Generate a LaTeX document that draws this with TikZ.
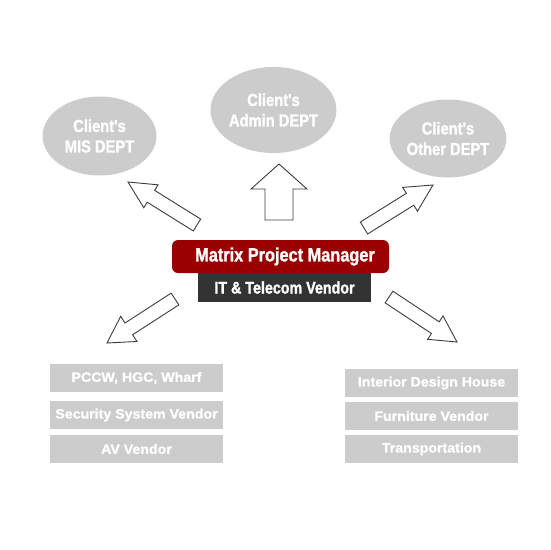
\documentclass[tikz,border=0pt]{standalone}
\usepackage{fontspec}
\usetikzlibrary{calc,shapes.geometric}
\newfontfamily\cfont[FakeStretch=0.85,FakeBold=1.3]{Liberation Sans Bold}
\newfontfamily\wfont[FakeStretch=1.05,FakeBold=1.1]{Liberation Sans Bold}
\definecolor{lgray}{RGB}{204,204,204}
\definecolor{mred}{RGB}{153,0,0}
\definecolor{dgray}{RGB}{51,51,51}
\definecolor{aline}{RGB}{60,60,60}
\tikzset{
  dept/.style={ellipse, fill=lgray, text=white, align=center, inner sep=0pt,
    font=\cfont\fontsize{17.3}{20.5}\selectfont},
  vendor/.style={rectangle, fill=lgray, text=white, minimum width=173pt, minimum height=28pt, inner sep=0pt,
    font=\wfont\fontsize{13.5}{16}\selectfont},
  blockarr/.style={draw=aline, line width=0.9pt, fill=white, line join=miter},
}
\newcommand\blockarrow[5]{%
  \coordinate (hb) at ($(#2)!#5!(#1)$);
  \draw[blockarr] ($(#1)!#3!90:(#2)$) -- ($(hb)!#3!90:(#2)$) -- ($(hb)!#4!90:(#2)$) -- (#2)
    -- ($(hb)!#4!-90:(#2)$) -- ($(hb)!#3!-90:(#2)$) -- ($(#1)!#3!-90:(#2)$) -- cycle;}
\begin{document}
\begin{tikzpicture}[x=1pt,y=-1pt]
\useasboundingbox[fill=white] (0,0) rectangle (550,550);
% departments
\node[dept, minimum width=114pt, minimum height=79pt] (mis) at (99.5,136) {Client's\\MIS DEPT};
\node[dept, minimum width=113pt, minimum height=86pt] (adm) at (273.5,110) {Client's\\Admin DEPT};
\node[dept, minimum width=113pt, minimum height=78pt] (oth) at (448,138.5) {Client's\\Other DEPT};
% centre
\node[rectangle, rounded corners=6pt, fill=mred, text=white, minimum width=217pt, minimum height=33pt, inner sep=0pt,
  font=\cfont\fontsize{19.2}{22}\selectfont] (pm) at (280.5,256.5) {\hspace*{9pt}Matrix Project Manager};
\node[rectangle, fill=dgray, text=white, minimum width=173pt, minimum height=29pt, inner sep=0pt,
  font=\cfont\fontsize{16.8}{20}\selectfont] (it) at (284.5,287.5) {IT \& Telecom Vendor};
% vendors
\node[vendor] (v1) at (136.5,378) {PCCW, HGC, Wharf};
\node[vendor] (v2) at (136.5,415) {Security System Vendor};
\node[vendor] (v3) at (136.5,449) {AV Vendor};
\node[vendor] (w1) at (431.5,383) {Interior Design House};
\node[vendor] (w2) at (431.5,416) {Furniture Vendor};
\node[vendor] (w3) at (431.5,449) {Transportation};
% arrows
\coordinate (ulA) at (197,225); \coordinate (ulB) at (128,182);
\coordinate (upA) at (279,220); \coordinate (upB) at (279,164);
\coordinate (urA) at (364,228); \coordinate (urB) at (433,185);
\coordinate (llA) at (175,299); \coordinate (llB) at (107,343);
\coordinate (lrA) at (389,297); \coordinate (lrB) at (457,342);
\blockarrow{ulA}{ulB}{7pt}{13.5pt}{27pt}
\blockarrow{upA}{upB}{14pt}{28pt}{25pt}
\blockarrow{urA}{urB}{7pt}{14pt}{27pt}
\blockarrow{llA}{llB}{7pt}{15pt}{26pt}
\blockarrow{lrA}{lrB}{7pt}{14pt}{26pt}
\end{tikzpicture}
\end{document}
